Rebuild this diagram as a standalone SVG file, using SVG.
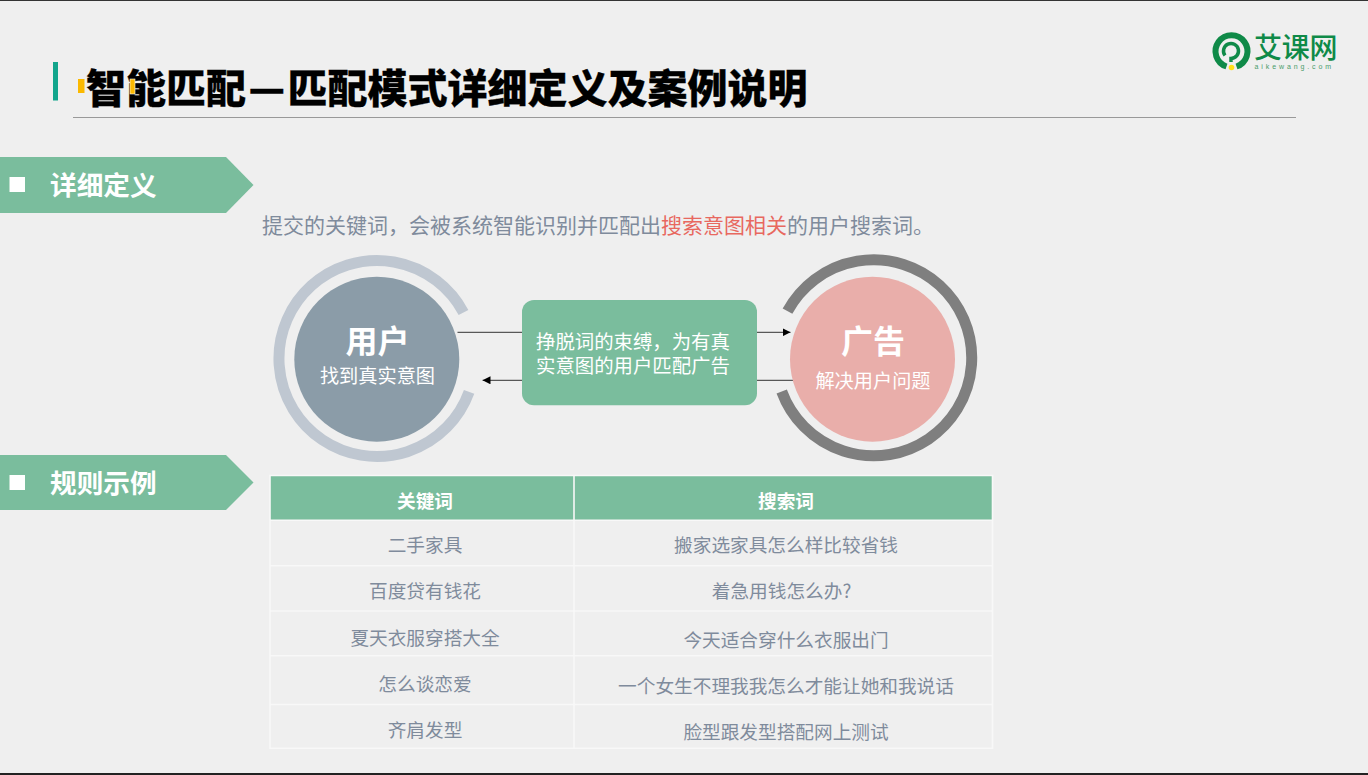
<svg xmlns="http://www.w3.org/2000/svg" width="1368" height="775" viewBox="0 0 1368 775">
<style>
text{font-family:"Noto Sans CJK SC","Noto Sans",sans-serif}
.title{font-size:40px;font-weight:900;fill:#000;stroke:#000;stroke-width:.3px}
.band{fill:#7abd9d}
.bandt{font-size:26.67px;font-weight:700;fill:#fff}
.sub{font-size:21px;fill:#7f8b9c}
.big{font-size:32px;font-weight:700;fill:#fff;text-anchor:middle}
.small{font-size:19.2px;fill:#fff;text-anchor:middle}
.box{font-size:19.4px;fill:#fff}
.th{font-size:18.67px;font-weight:700;fill:#fff;text-anchor:middle}
.td{font-size:18.67px;fill:#7f8b9c;text-anchor:middle}
.grid{stroke:#f8f8f8;stroke-width:1.6;fill:none}
.conn{stroke:#333;stroke-width:1;fill:none}
</style>
<defs>
<marker id="arrow" viewBox="0 0 8 8" refX="8" refY="4" markerWidth="8" markerHeight="8" markerUnits="userSpaceOnUse" orient="auto"><path d="M0 0L8 4L0 8Z" fill="#000"/></marker>
</defs>
<rect width="1368" height="775" fill="#efefef"/>
<rect width="1368" height="1" fill="#333"/>
<rect y="773" width="1368" height="2" fill="#222"/>
<g id="header">
<rect x="53" y="62" width="5" height="38.500" fill="#12a58c"/>
<rect x="78" y="79" width="6.500" height="14" fill="#fbb900"/>
<line x1="73" y1="117.500" x2="1296" y2="117.500" stroke="#999" stroke-width="1"/>
<text class="title" x="86" y="103">智能匹配<tspan dx="2.500">—</tspan><tspan dx="2.500">匹配模式详细定义及案例说明</tspan></text>
<rect x="130" y="79" width="5" height="15" fill="#fbb900" stroke="#fff" stroke-width=".6"/>
</g>
<g id="logo">
<path d="M1226.500 66.500A16 16 0 1 1 1236.500 66.500" fill="none" stroke="#0f8a48" stroke-width="6"/>
<path d="M1231 62V58.500A7.500 7.500 0 1 0 1225 55.500" fill="none" stroke="#0f8a48" stroke-width="3.500"/>
<circle cx="1231.500" cy="67.500" r="2.800" fill="#ffe01a"/>
<text x="1254" y="58" font-size="28" font-weight="500" fill="#0f8a48" style="letter-spacing:-.2px">艾课网</text>
<text x="1254.500" y="69" font-size="7" fill="#4a9c6c" style="font-family:'Liberation Sans',sans-serif;letter-spacing:2.900px">aikewang.com</text>
</g>
<g id="section-definition">
<polygon class="band" points="0,157 226,157 253.500,185 226,213 0,213"/>
<rect x="9.500" y="177" width="15.500" height="15" fill="#fff"/>
<text class="bandt" x="50" y="194.500">详细定义</text>
</g>
<g id="definition-text">
<text class="sub" x="262" y="233">提交的关键词，会被系统智能识别并匹配出<tspan fill="#e8685f">搜索意图相关</tspan>的用户搜索词。</text>
</g>
<g id="connectors">
<line class="conn" x1="457.500" y1="332.300" x2="522" y2="332.300"/>
<line class="conn" x1="522" y1="380.300" x2="482.500" y2="380.300" marker-end="url(#arrow)"/>
<line class="conn" x1="757" y1="332.300" x2="790.500" y2="332.300" marker-end="url(#arrow)"/>
<line class="conn" x1="757" y1="380.300" x2="794" y2="380.300"/>
</g>
<g id="node-user">
<path d="M463.500 312.500A98 98 0 1 0 469.100 391.900" fill="none" stroke="#bfc7d1" stroke-width="11"/>
<circle cx="376.800" cy="359.200" r="82.500" fill="#8b9ca8"/>
<text class="big" x="377.500" y="353">用户</text>
<text class="small" x="377.500" y="383">找到真实意图</text>
</g>
<g id="node-ad">
<path d="M787.500 311.200A98 98 0 1 1 781.700 391.500" fill="none" stroke="#7f7f7f" stroke-width="11"/>
<circle cx="872.500" cy="359.200" r="82.500" fill="#e9aeaa"/>
<text class="big" x="873" y="353">广告</text>
<text class="small" x="873" y="388">解决用户问题</text>
</g>
<g id="node-center">
<rect x="522" y="300" width="235" height="105.300" rx="12" fill="#7abd9d"/>
<text class="box" x="536" y="349">挣脱词的束缚，为有真</text>
<text class="box" x="536" y="373">实意图的用户匹配广告</text>
</g>
<g id="section-rules">
<polygon class="band" points="0,455 226,455 253.500,482.500 226,510 0,510"/>
<rect x="9.500" y="475" width="15.500" height="15" fill="#fff"/>
<text class="bandt" x="50" y="492.500">规则示例</text>
</g>
<g id="table">
<rect x="270" y="475.500" width="722.500" height="44.700" fill="#7abd9d"/>
<path class="grid" d="M270 475.500H992.500V748.300H270ZM574 475.500V748.300M270 520.300H992.500M270 565.700H992.500M270 611H992.500M270 655.700H992.500M270 704.500H992.500"/>
<text class="th" x="425" y="508">关键词</text>
<text class="th" x="786" y="508">搜索词</text>
<text class="td" x="425" y="552">二手家具</text>
<text class="td" x="786" y="552">搬家选家具怎么样比较省钱</text>
<text class="td" x="425" y="598">百度贷有钱花</text>
<text class="td" x="781.500" y="598">着急用钱怎么办?</text>
<text class="td" x="425" y="645">夏天衣服穿搭大全</text>
<text class="td" x="786" y="647">今天适合穿什么衣服出门</text>
<text class="td" x="425" y="691">怎么谈恋爱</text>
<text class="td" x="786" y="693">一个女生不理我我怎么才能让她和我说话</text>
<text class="td" x="425" y="737">齐肩发型</text>
<text class="td" x="786" y="739">脸型跟发型搭配网上测试</text>
</g>
</svg>
